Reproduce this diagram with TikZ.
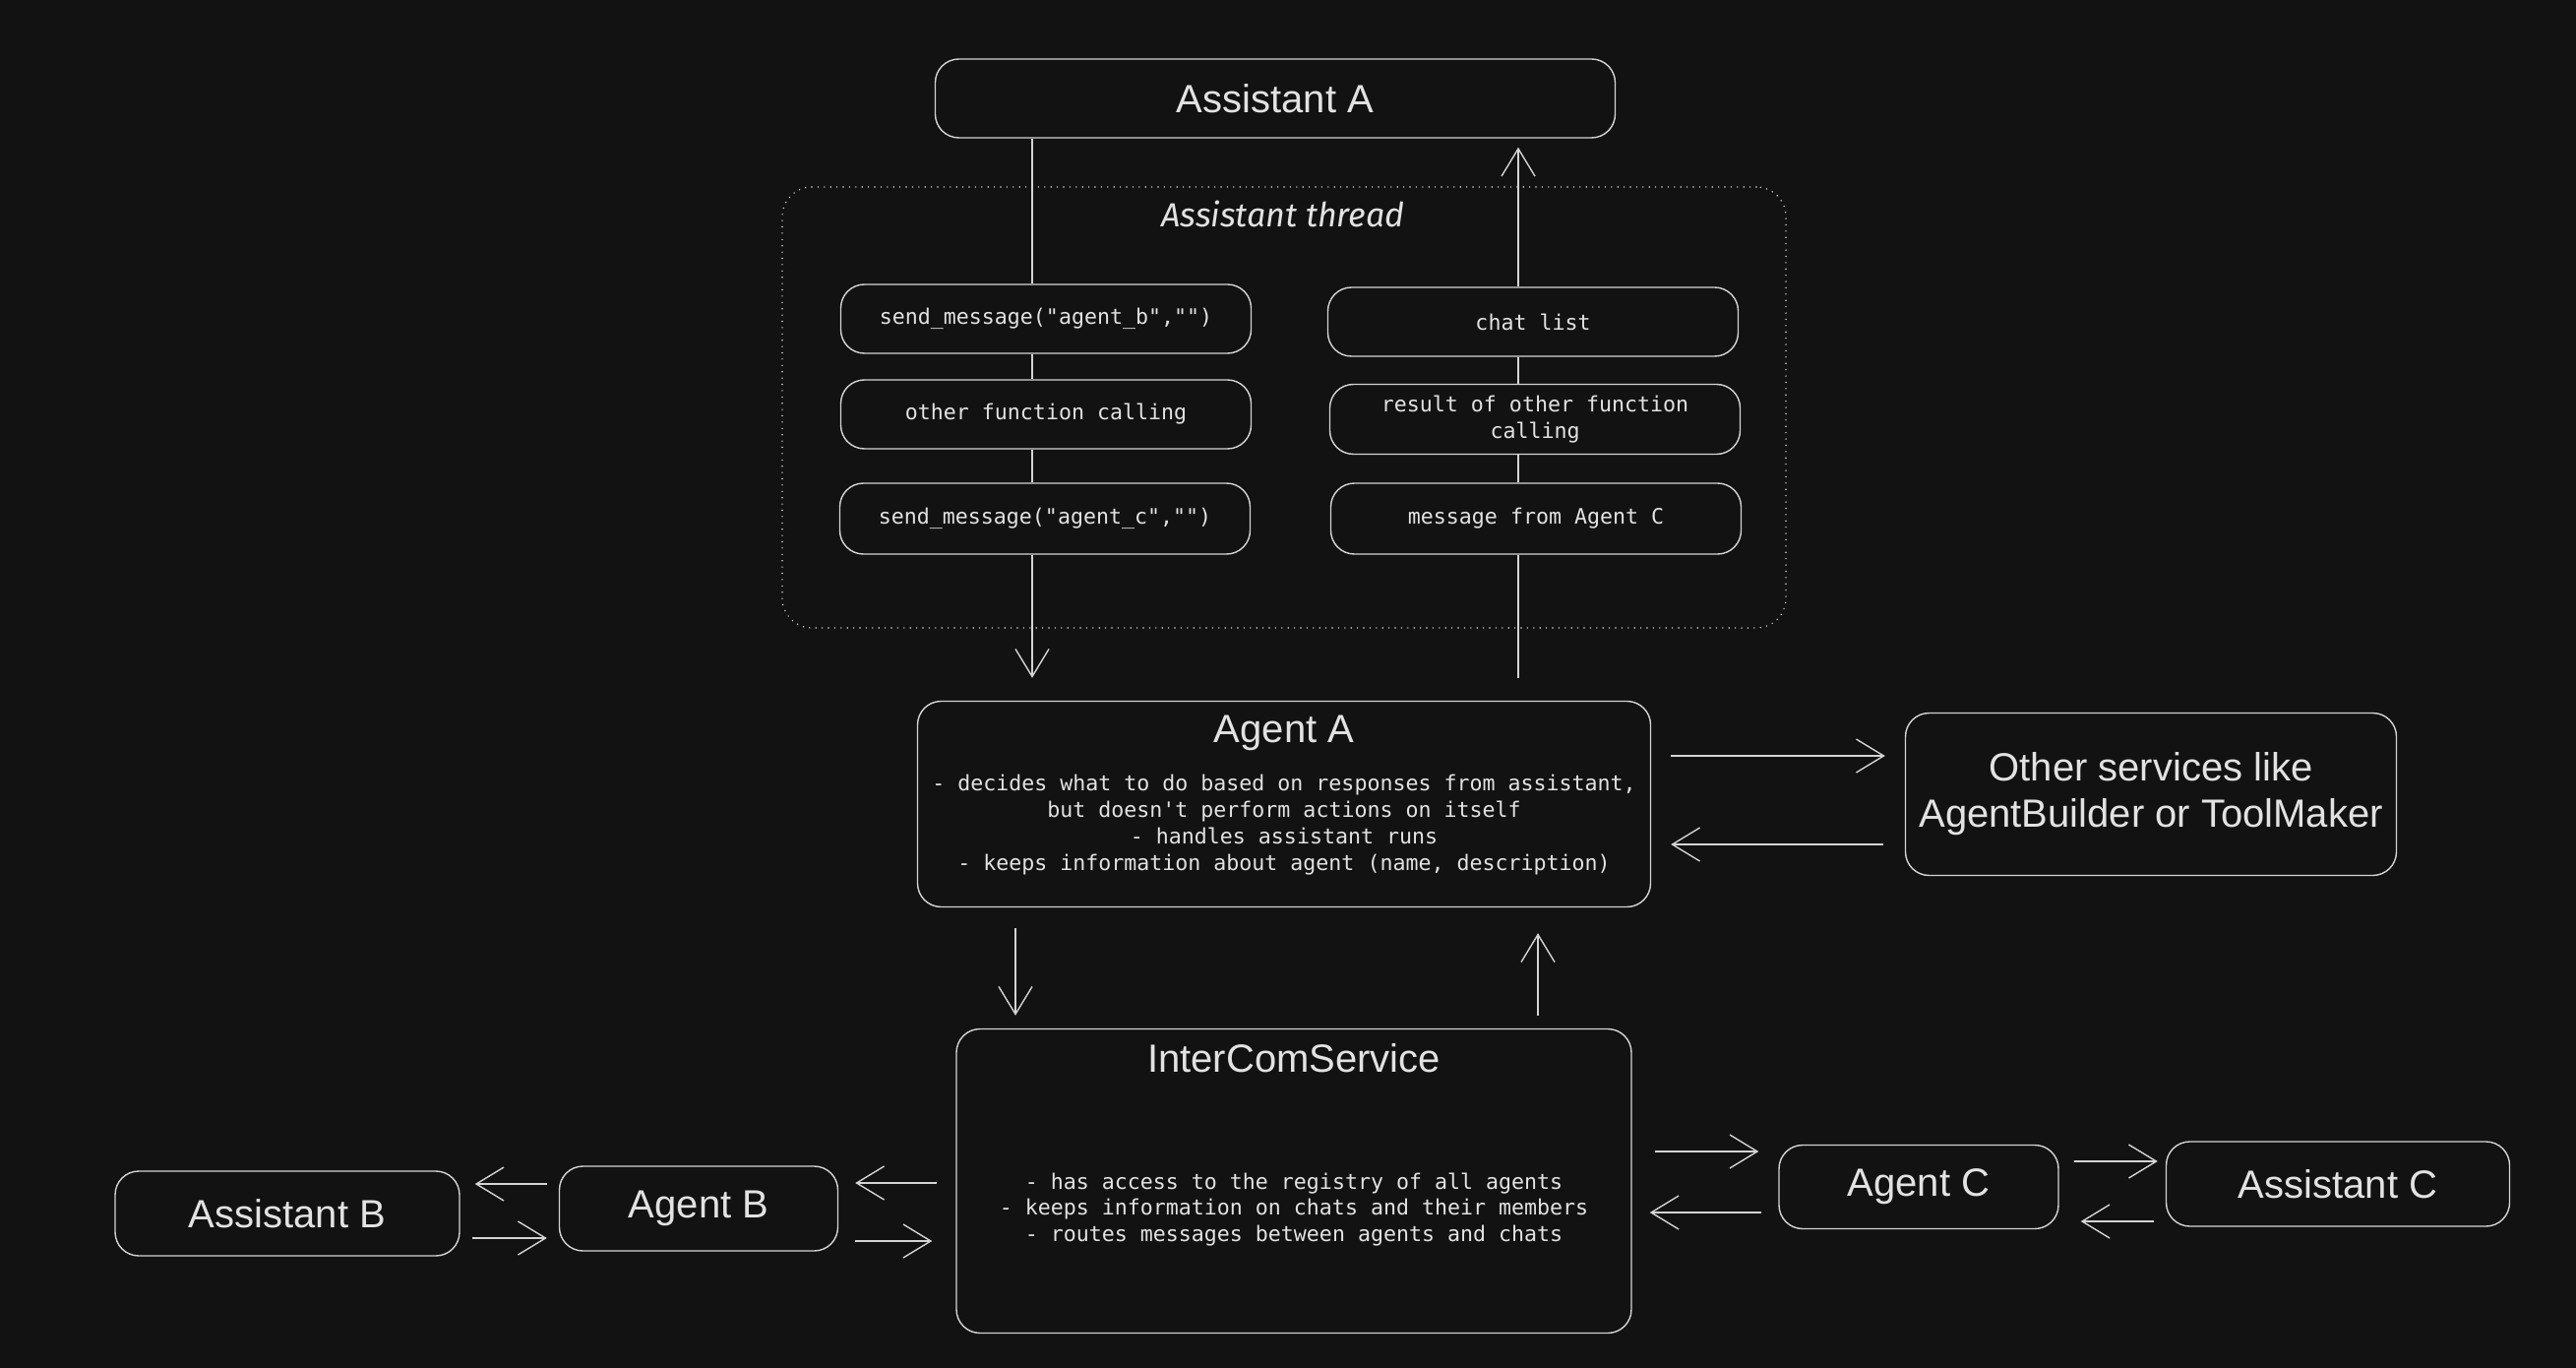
\documentclass[tikz,border=0pt]{standalone}
\usepackage{fontspec}
\setmainfont{Liberation Sans}
\setmonofont{DejaVu Sans Mono}
\newfontfamily\handfont{Fira Sans}
\usetikzlibrary{arrows.meta}

\definecolor{bgcol}{HTML}{121212}
\definecolor{inkcol}{HTML}{D4D4D4}
\definecolor{txtcol}{HTML}{E2E2E2}

\tikzset{
    box/.style={draw=inkcol, fill=bgcol, line width=0.7pt, rounded corners=12pt, text=txtcol, inner sep=0pt},
    namebox/.style={box, font=\fontsize{20}{23.5}\selectfont, align=center},
    codebox/.style={box, font=\ttfamily\fontsize{10.8}{13.4}\selectfont, align=center, minimum width=208.5pt, minimum height=35pt},
    plain/.style={text=txtcol, inner sep=0pt, align=center},
    link/.style={draw=inkcol, line width=0.7pt},
    arr/.style={link, -{Straight Barb[length=14pt, width=17pt]}},
}

\begin{document}
\begin{tikzpicture}[x=0.5pt, y=-0.5pt]
    \fill[bgcol] (0, 0) rectangle (2618, 1390);
    \coordinate (lx) at (1049, 0);
    \coordinate (rx) at (1543, 0);

    %thread
    \node[draw=inkcol, line width=0.8pt, line cap=round, dash pattern=on 0pt off 3.2pt, rounded corners=15pt, minimum width=510pt, minimum height=224pt] (thread) at (1305, 414) {};
    \node[plain, font=\handfont\itshape\fontsize{17}{20}\selectfont] (threadtitle) at (1304, 217) {Assistant thread};

    %assistant A
    \node[namebox, minimum width=345.5pt, minimum height=40pt] (AsstA) at (1296, 100) {Assistant A};

    %left column
    \node[codebox] (sendB) at (1063, 324) {send\_message("agent\_b","")};
    \node[codebox] (other) at (1063, 421) {other function calling};
    \node[codebox, minimum height=36pt] (sendC) at (1062, 527) {send\_message("agent\_c","")};

    %right column
    \node[codebox] (chat) at (1558, 327) {chat list};
    \node[codebox, minimum height=35.5pt] (result) at (1560, 426) {result of other function\\calling};
    \node[codebox, minimum height=36pt] (msgC) at (1561, 527) {message from Agent C};

    %agent A
    \node[box, minimum width=372.5pt, minimum height=104.5pt] (AgentA) at (1305, 817) {};
    \node[plain, font=\fontsize{20}{23.5}\selectfont] (AgentAtitle) at (1305, 745) {Agent A};
    \node[plain, font=\ttfamily\fontsize{10.8}{13.4}\selectfont] (AgentAtext) at (1305, 838) {- decides what to do based on responses from assistant,\\but doesn't perform actions on itself\\- handles assistant runs\\- keeps information about agent (name, description)};

    \node[namebox, minimum width=249.5pt, minimum height=82.5pt] (Other) at (2186, 807) {Other services like\\AgentBuilder or ToolMaker};

    %intercom
    \node[box, minimum width=343pt, minimum height=154.5pt] (InterCom) at (1315, 1200) {};
    \node[plain, font=\fontsize{20}{23.5}\selectfont] (InterComtitle) at (1315, 1075) {InterComService};
    \node[plain, font=\ttfamily\fontsize{10.8}{13.4}\selectfont] (InterComtext) at (1315, 1229) {- has access to the registry of all agents\\- keeps information on chats and their members\\- routes messages between agents and chats};

    %B and C
    \node[namebox, minimum width=141.5pt, minimum height=43pt] (AgentB) at (710, 1228) {Agent B};
    \node[namebox, minimum width=175pt, minimum height=43pt] (AsstB) at (292, 1233) {Assistant B};
    \node[namebox, minimum width=142pt, minimum height=42.5pt] (AgentC) at (1950, 1206) {Agent C};
    \node[namebox, minimum width=174.5pt, minimum height=43pt] (AsstC) at (2376, 1203) {Assistant C};

    %thread lines
    \draw[link] (AsstA.south -| lx) -- (sendB.north -| lx);
    \draw[link] (sendB.south -| lx) -- (other.north -| lx);
    \draw[link] (other.south -| lx) -- (sendC.north -| lx);
    \draw[arr, shorten >=11.5pt] (sendC.south -| lx) -- (AgentA.north -| lx);

    \draw[link, shorten <=11.5pt] (AgentA.north -| rx) -- (msgC.south -| rx);
    \draw[link] (msgC.north -| rx) -- (result.south -| rx);
    \draw[link] (result.north -| rx) -- (chat.south -| rx);
    \draw[arr, shorten >=4.5pt] (chat.north -| rx) -- (AsstA.south -| rx);

    %agent A <-> other
    \draw[arr, shorten <=10pt, shorten >=10pt] ([yshift=24.5pt]AgentA.east) -- ([yshift=24.5pt]AgentA.east -| Other.west);
    \draw[arr, shorten <=11pt, shorten >=10pt] ([yshift=-20.5pt]AgentA.east -| Other.west) -- ([yshift=-20.5pt]AgentA.east);

    %agent A <-> intercom
    \coordinate (dx) at (1032, 0);
    \coordinate (ux) at (1563, 0);
    \draw[arr, shorten <=10.5pt, shorten >=6.5pt] (AgentA.south -| dx) -- (InterCom.north -| dx);
    \draw[arr, shorten <=6.5pt, shorten >=13pt] (InterCom.north -| ux) -- (AgentA.south -| ux);

    %intercom <-> B
    \draw[arr, shorten <=9.5pt, shorten >=8.5pt] ([yshift=13pt]AgentB.east -| InterCom.west) -- ([yshift=13pt]AgentB.east);
    \draw[arr, shorten <=8.5pt, shorten >=12pt] ([yshift=-16.5pt]AgentB.east) -- ([yshift=-16.5pt]AgentB.east -| InterCom.west);
    \draw[arr, shorten <=6pt, shorten >=7.5pt] ([yshift=12.5pt]AgentB.west) -- ([yshift=12.5pt]AgentB.west -| AsstB.east);
    \draw[arr, shorten <=6pt, shorten >=6pt] ([yshift=-15pt]AgentB.west -| AsstB.east) -- ([yshift=-15pt]AgentB.west);

    %intercom <-> C
    \draw[arr, shorten <=11.5pt, shorten >=10pt] ([yshift=18pt]AgentC.west -| InterCom.east) -- ([yshift=18pt]AgentC.west);
    \draw[arr, shorten <=8.5pt, shorten >=9pt] ([yshift=-13pt]AgentC.west) -- ([yshift=-13pt]AgentC.west -| InterCom.east);
    \draw[arr, shorten <=7.5pt, shorten >=4pt] ([yshift=13pt]AgentC.east) -- ([yshift=13pt]AgentC.east -| AsstC.west);
    \draw[arr, shorten <=6pt, shorten >=11pt] ([yshift=-17.5pt]AgentC.east -| AsstC.west) -- ([yshift=-17.5pt]AgentC.east);
\end{tikzpicture}
\end{document}
